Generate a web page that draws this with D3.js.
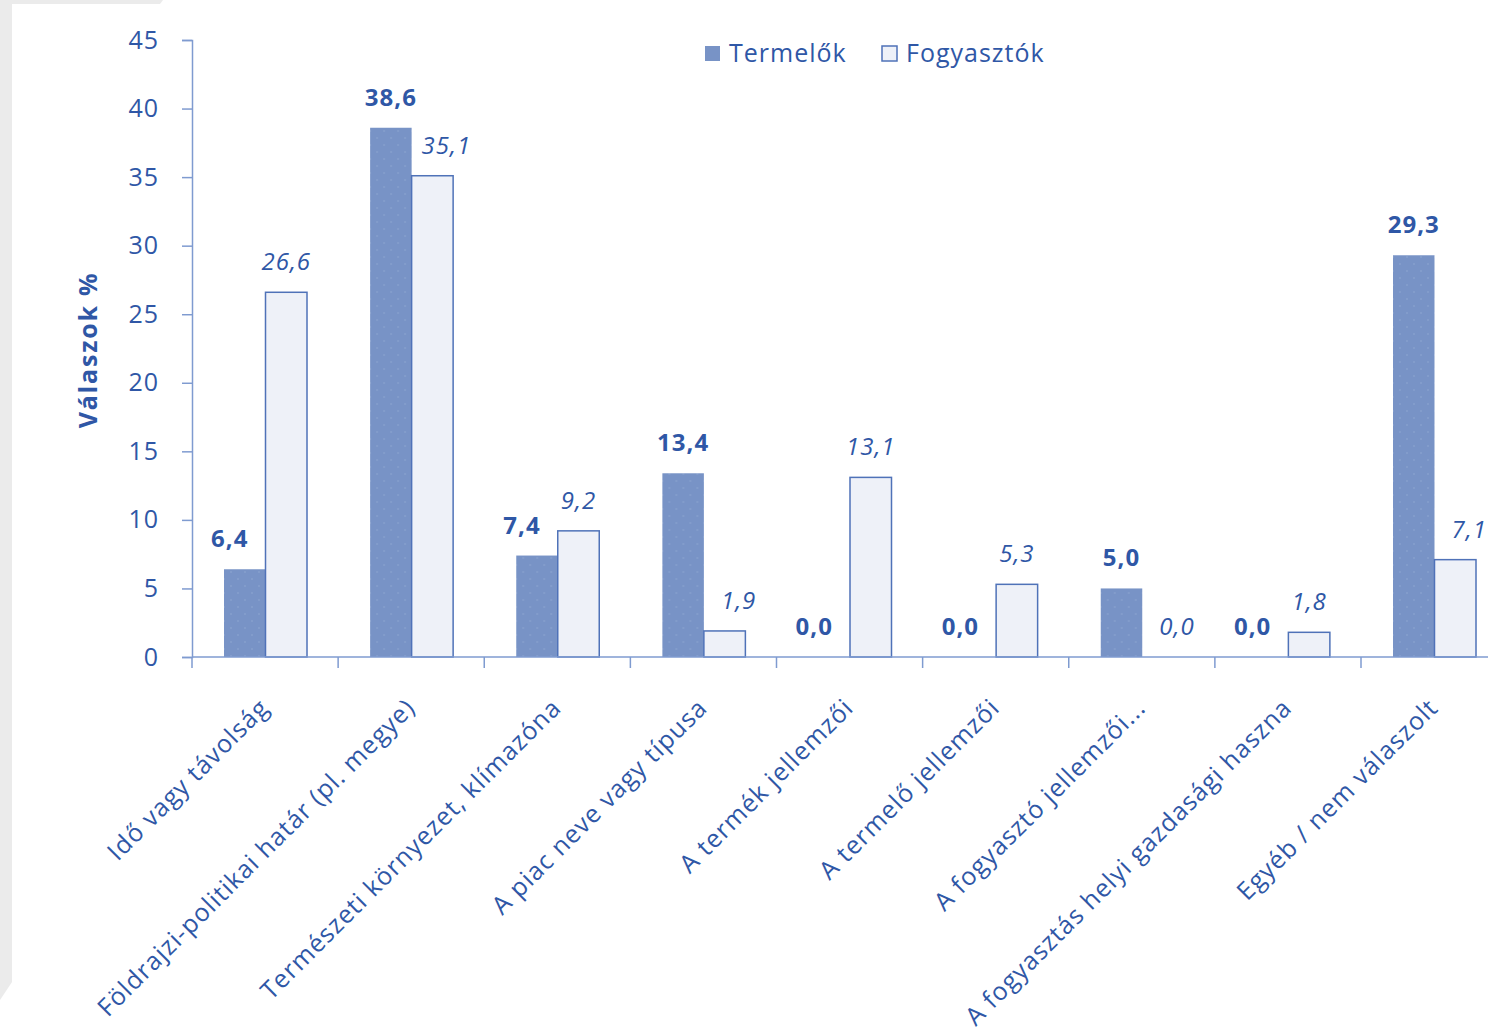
<!DOCTYPE html>
<html lang="hu">
    <head>
        <meta charset="utf-8">
        <script type="text/javascript" src="https://d3js.org/d3.v7.min.js"></script>
        <style type="text/css">
          body { margin: 0; background: white; }
          svg text { font-family: "Open Sans", sans-serif; fill: #2f57a6; letter-spacing: 1px; }
        </style>
    </head>
    <body>
      <script type="text/javascript">
        // data
        var categories = ["Idő vagy távolság", "Földrajzi-politikai határ (pl. megye)",
                          "Természeti környezet, klímazóna", "A piac neve vagy típusa",
                          "A termék jellemzői", "A termelő jellemzői", "A fogyasztó jellemzői...",
                          "A fogyasztás helyi gazdasági haszna", "Egyéb / nem válaszolt"];
        var seriesNames = ["Termelők", "Fogyasztók"];
        var termelok = [6.4, 38.6, 7.4, 13.4, 0.0, 0.0, 5.0, 0.0, 29.3];
        var fogyasztok = [26.6, 35.1, 9.2, 1.9, 13.1, 5.3, 0.0, 1.8, 7.1];
        var yTicks = [0, 5, 10, 15, 20, 25, 30, 35, 40, 45];

        var w = 1488;
        var h = 1031;
        var left = 192;
        var step = 146.125;
        var bottom = 657;

        var svg = d3.select("body").append("svg").attr("width", w).attr("height", h);

        // grey frame on the left / top
        svg.append("polygon")
           .attr("points", "0,0 163,0 160,4 12,4 12,982 0,1000")
           .attr("fill", "#ebebeb");

        // dotted texture for the dark bars
        var defs = svg.append("defs");
        var pat = defs.append("pattern").attr("id", "dots")
                      .attr("width", 14).attr("height", 14)
                      .attr("patternUnits", "userSpaceOnUse");
        pat.append("rect").attr("width", 14).attr("height", 14).attr("fill", "#7893c6");
        pat.append("circle").attr("cx", 4).attr("cy", 5).attr("r", 0.8).attr("fill", "#8fa7d2");
        pat.append("circle").attr("cx", 11).attr("cy", 12).attr("r", 0.8).attr("fill", "#8fa7d2");

        var yScale = d3.scaleLinear().domain([0, 45]).range([bottom, 40]);
        var x0 = d3.scaleBand().domain(categories).range([left, left + step * categories.length]);
        var x1 = d3.scaleBand().domain(seriesNames).range([32, 115]);

        var rows = categories.map(function(c, i) {
          return {cat: c, values: [termelok[i], fogyasztok[i]]};
        });

        // y axis
        var yAxis = svg.append("g")
          .attr("transform", "translate(" + left + ",0)")
          .call(d3.axisLeft(yScale).tickValues(yTicks).tickSize(10).tickPadding(23)
                  .tickFormat(d3.format("d")));
        yAxis.select(".domain").attr("stroke", "#7f9bd0").attr("stroke-width", 1.5);
        yAxis.selectAll(".tick line").attr("stroke", "#7f9bd0").attr("stroke-width", 1.5);
        yAxis.selectAll(".tick text").style("font-size", "25px").attr("fill", "#2f57a6");

        // bars
        var groups = svg.selectAll("g.cat")
          .data(rows)
          .enter()
          .append("g")
          .attr("class", "cat")
          .attr("transform", function(d) { return "translate(" + x0(d.cat) + ",0)"; });

        groups.selectAll("rect")
          .data(function(d) { return d.values.map(function(v, j) { return {s: seriesNames[j], v: v}; }); })
          .enter()
          .append("rect")
          .attr("x", function(d) { return x1(d.s); })
          .attr("width", x1.bandwidth())
          .attr("y", function(d) { return yScale(d.v); })
          .attr("height", function(d) { return bottom - yScale(d.v); })
          .attr("fill", function(d, j) { return j === 0 ? "url(#dots)" : "#eef1f8"; })
          .attr("stroke", function(d, j) { return j === 0 ? "none" : "#4f72b8"; })
          .attr("stroke-width", 1.5)
          .attr("display", function(d) { return d.v === 0 ? "none" : null; });

        // value labels, nudged away from the taller neighbour
        groups.selectAll("text.val")
          .data(function(d) {
            return d.values.map(function(v, j) {
              return {s: seriesNames[j], v: v, other: d.values[1 - j], j: j};
            });
          })
          .enter()
          .append("text")
          .attr("class", "val")
          .attr("x", function(d) {
            var nudge = 0;
            if (d.other > d.v) nudge = d.j === 0 ? -15 : 14;
            return x1(d.s) + x1.bandwidth() / 2 + nudge;
          })
          .attr("y", function(d) { return yScale(d.v) - 22; })
          .attr("text-anchor", "middle")
          .style("font-size", "24px")
          .style("font-weight", function(d) { return d.j === 0 ? "bold" : "normal"; })
          .style("font-style", function(d) { return d.j === 0 ? "normal" : "italic"; })
          .text(function(d) { return d3.format(".1f")(d.v).replace(".", ","); });

        // x axis
        var xAxis = svg.append("g").attr("transform", "translate(0," + bottom + ")");
        xAxis.append("line").attr("x1", left).attr("x2", w)
             .attr("stroke", "#7f9bd0").attr("stroke-width", 1.5);
        xAxis.selectAll("line.tick")
             .data(categories)
             .enter()
             .append("line")
             .attr("class", "tick")
             .attr("x1", function(d) { return x0(d); })
             .attr("x2", function(d) { return x0(d); })
             .attr("y1", 0).attr("y2", 11)
             .attr("stroke", "#7f9bd0").attr("stroke-width", 1.5);

        // rotated category labels
        svg.selectAll("text.cat")
          .data(categories)
          .enter()
          .append("text")
          .attr("class", "cat")
          .attr("transform", function(d) {
            return "translate(" + (x0(d) + x0.bandwidth() / 2 - 7) + "," + (bottom + 40) + ") rotate(-45)";
          })
          .attr("text-anchor", "end")
          .attr("dy", "0.7em")
          .style("font-size", "25px")
          .text(function(d) { return d; });

        // y axis title
        svg.append("text")
           .attr("transform", "translate(97,350) rotate(-90)")
           .attr("text-anchor", "middle")
           .style("font-size", "25px")
           .style("font-weight", "bold")
           .style("letter-spacing", "1.8px")
           .text("Válaszok %");

        // legend
        var legend = svg.append("g").attr("transform", "translate(705,46)");
        var legX = [0, 177];
        seriesNames.forEach(function(s, i) {
          legend.append("rect")
                .attr("x", legX[i]).attr("y", 0).attr("width", 15).attr("height", 15)
                .attr("fill", i === 0 ? "#7893c6" : "#eef1f8")
                .attr("stroke", i === 0 ? "none" : "#4f72b8").attr("stroke-width", 1.5);
          legend.append("text")
                .attr("x", legX[i] + 24).attr("y", 16)
                .style("font-size", "25px")
                .text(s);
        });
      </script>
    </body>
</html>
